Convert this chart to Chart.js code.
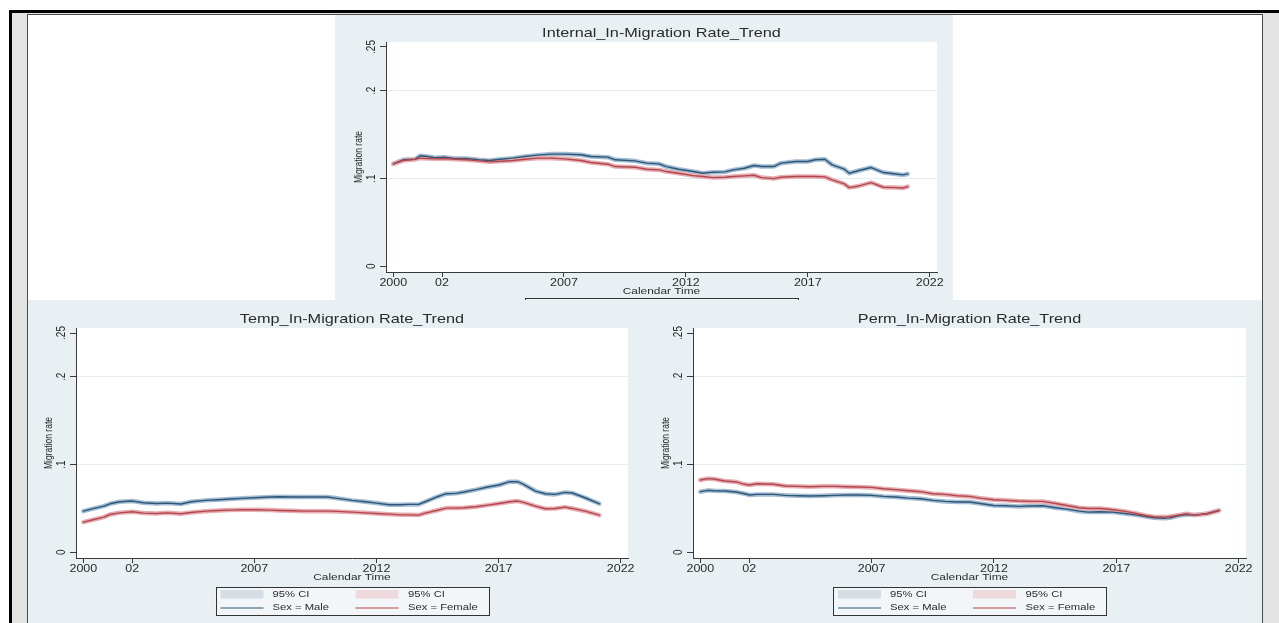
<!DOCTYPE html>
<html>
<head>
<meta charset="utf-8">
<title>In-Migration Rate Trends</title>
<script src="https://cdn.jsdelivr.net/npm/chart.js@4.4.1/dist/chart.umd.min.js"></script>
<style>
  html, body { margin: 0; padding: 0; background: #fff; }
  body { width: 1279px; height: 623px; position: relative; overflow: hidden; }
  .abs { position: absolute; }
  #gutter { left: 12px; top: 13px; width: 1267px; height: 610px; background: #e3e3e3; }
  #frameTop { left: 9px; top: 10px; width: 1270px; height: 3px; background: #000; }
  #frameLeft { left: 9px; top: 10px; width: 3px; height: 613px; background: #000; }
  #sheet { left: 27px; top: 14px; width: 1234px; height: 609px; background: #fff;
           border-left: 1px solid #4a4a4a; border-top: 1px solid #4a4a4a; border-right: 1px solid #4a4a4a; }
  canvas.panel { position: absolute; background: #e9f0f3; }
</style>
</head>
<body>
<div id="gutter" class="abs"></div>
<div id="frameTop" class="abs"></div>
<div id="frameLeft" class="abs"></div>
<div id="sheet" class="abs"></div>
<canvas id="cInternal" class="panel" width="618" height="285" style="left:335px;top:15px"></canvas>
<canvas id="cTemp" class="panel" width="612" height="323" style="left:28px;top:300px"></canvas>
<canvas id="cPerm" class="panel" width="622" height="323" style="left:640px;top:300px"></canvas>
<script>
// ---- axis ticks and labels ----
const X_TICKS = [2000, 2002, 2007, 2012, 2017, 2022];
const X_TICK_LABELS = ['2000', '02', '2007', '2012', '2017', '2022'];
const Y_TICKS = [0, 0.1, 0.2, 0.25];
const Y_TICK_LABELS = ['0', '.1', '.2', '.25'];
const X_TITLE = 'Calendar Time';
const Y_TITLE = 'Migration rate';
const LEGEND_LABELS = ['95% CI', '95% CI', 'Sex = Male', 'Sex = Female'];

// ---- Internal in-migration ----
const internalTitle = 'Internal_In-Migration Rate_Trend';
const internalYears = [2000, 2000.4, 2000.9, 2001.1, 2001.4, 2001.7, 2002.1, 2002.5, 2003, 2003.5, 2003.95, 2004.4, 2004.9, 2005.4, 2005.9, 2006.5, 2007, 2007.7, 2008.1, 2008.8, 2009.1, 2009.9, 2010.4, 2010.9, 2011.2, 2011.7, 2012.3, 2012.7, 2013.1, 2013.6, 2013.95, 2014.4, 2014.8, 2015.1, 2015.6, 2015.9, 2016.5, 2017, 2017.3, 2017.7, 2018, 2018.5, 2018.7, 2019.1, 2019.6, 2020.1, 2020.6, 2020.9, 2021.1];
const internalMale = [0.1168, 0.1214, 0.1221, 0.1260, 0.1252, 0.1237, 0.1244, 0.1229, 0.1229, 0.1214, 0.1206, 0.1221, 0.1233, 0.1252, 0.1267, 0.1279, 0.1279, 0.1271, 0.1252, 0.1244, 0.1214, 0.1202, 0.1176, 0.1168, 0.1137, 0.1107, 0.1080, 0.1061, 0.1073, 0.1076, 0.1099, 0.1118, 0.1149, 0.1137, 0.1137, 0.1176, 0.1195, 0.1195, 0.1214, 0.1221, 0.1156, 0.1107, 0.1061, 0.1092, 0.1126, 0.1069, 0.1053, 0.1042, 0.1053];
const internalFemale = [0.1168, 0.1206, 0.1221, 0.1233, 0.1229, 0.1225, 0.1229, 0.1221, 0.1214, 0.1202, 0.1191, 0.1198, 0.1206, 0.1221, 0.1233, 0.1233, 0.1225, 0.1206, 0.1183, 0.1164, 0.1137, 0.1130, 0.1107, 0.1099, 0.1080, 0.1061, 0.1034, 0.1023, 0.1011, 0.1015, 0.1023, 0.1031, 0.1038, 0.1011, 0.1000, 0.1015, 0.1023, 0.1023, 0.1023, 0.1019, 0.0985, 0.0939, 0.0897, 0.0916, 0.0954, 0.0901, 0.0897, 0.0893, 0.0908];

// ---- Temporary in-migration ----
const tempTitle = 'Temp_In-Migration Rate_Trend';
const tempYears = [2000, 2000.44, 2000.84, 2001.09, 2001.49, 2002.01, 2002.46, 2003.0, 2003.44, 2004.0, 2004.41, 2005.01, 2005.54, 2006.0, 2006.52, 2007.0, 2007.65, 2008.0, 2008.62, 2009.01, 2009.59, 2010.0, 2010.4, 2011.0, 2011.54, 2012.0, 2012.51, 2013.0, 2013.32, 2013.73, 2014.0, 2014.46, 2014.86, 2015.27, 2015.59, 2016.08, 2016.56, 2017.02, 2017.46, 2017.78, 2018.02, 2018.51, 2018.91, 2019.32, 2019.72, 2020.02, 2020.54, 2021.13];
const tempMale = [0.0469, 0.0500, 0.0527, 0.0553, 0.0576, 0.0584, 0.0565, 0.0557, 0.0561, 0.0550, 0.0576, 0.0592, 0.0599, 0.0607, 0.0615, 0.0622, 0.0630, 0.0634, 0.0630, 0.0630, 0.0630, 0.0630, 0.0615, 0.0592, 0.0576, 0.0561, 0.0542, 0.0542, 0.0546, 0.0546, 0.0576, 0.0630, 0.0668, 0.0672, 0.0687, 0.0714, 0.0744, 0.0767, 0.0805, 0.0805, 0.0775, 0.0698, 0.0668, 0.0660, 0.0683, 0.0676, 0.0622, 0.0553];
const tempFemale = [0.0344, 0.0374, 0.0401, 0.0431, 0.0450, 0.0462, 0.0447, 0.0443, 0.0450, 0.0439, 0.0454, 0.0469, 0.0477, 0.0481, 0.0485, 0.0485, 0.0481, 0.0477, 0.0473, 0.0469, 0.0469, 0.0469, 0.0466, 0.0458, 0.0450, 0.0443, 0.0435, 0.0427, 0.0427, 0.0424, 0.0447, 0.0477, 0.0504, 0.0504, 0.0508, 0.0519, 0.0538, 0.0557, 0.0576, 0.0584, 0.0569, 0.0527, 0.0496, 0.0500, 0.0515, 0.0500, 0.0469, 0.0424];

// ---- Permanent in-migration ----
const permTitle = 'Perm_In-Migration Rate_Trend';
const permYears = [2000, 2000.3, 2000.55, 2001.0, 2001.47, 2001.81, 2002.01, 2002.31, 2002.99, 2003.48, 2004.0, 2004.48, 2005.0, 2005.48, 2005.99, 2006.49, 2006.99, 2007.49, 2007.99, 2008.49, 2009.0, 2009.5, 2010.0, 2010.5, 2011.0, 2011.5, 2011.99, 2012.49, 2012.99, 2013.5, 2014.0, 2014.52, 2014.98, 2015.48, 2015.85, 2016.35, 2016.86, 2017.36, 2017.86, 2018.19, 2018.53, 2019.0, 2019.2, 2019.53, 2019.87, 2020.2, 2020.7, 2021.2];
const permMale = [0.0691, 0.0706, 0.0702, 0.0698, 0.0687, 0.0668, 0.0653, 0.0660, 0.0660, 0.0649, 0.0645, 0.0641, 0.0645, 0.0649, 0.0653, 0.0653, 0.0649, 0.0637, 0.0630, 0.0618, 0.0611, 0.0592, 0.0580, 0.0573, 0.0573, 0.0553, 0.0534, 0.0531, 0.0523, 0.0527, 0.0531, 0.0508, 0.0492, 0.0469, 0.0458, 0.0462, 0.0458, 0.0443, 0.0424, 0.0408, 0.0393, 0.0389, 0.0393, 0.0416, 0.0431, 0.0424, 0.0439, 0.0477];
const permFemale = [0.0824, 0.0840, 0.0836, 0.0813, 0.0802, 0.0775, 0.0767, 0.0782, 0.0775, 0.0756, 0.0752, 0.0748, 0.0752, 0.0752, 0.0748, 0.0744, 0.0740, 0.0725, 0.0714, 0.0702, 0.0691, 0.0668, 0.0660, 0.0645, 0.0637, 0.0615, 0.0599, 0.0592, 0.0584, 0.0580, 0.0580, 0.0557, 0.0534, 0.0508, 0.0500, 0.0500, 0.0485, 0.0466, 0.0439, 0.0420, 0.0405, 0.0401, 0.0408, 0.0424, 0.0439, 0.0424, 0.0439, 0.0477];

// ---- styling ----
const FONT = '"Liberation Sans", Arial, Helvetica, sans-serif';
const TEXT = '#2b2b2b';
const AXIS = '#3a3a3a';
const GRID = '#e3ebef';
const MALE_LINE = '#2d5676';
const MALE_BAND = '#a3bdd4';
const FEMALE_LINE = '#b3464d';
const FEMALE_BAND = '#e6aeb3';
const MALE_SWATCH = '#d6dde5';
const FEMALE_SWATCH = '#eed9dd';
const SX = 1.25; // horizontal text stretch

function txt(ctx, s, x, y, size, opts = {}) {
  ctx.save();
  ctx.translate(x, y);
  ctx.scale(opts.sx || SX, 1);
  if (opts.rot) ctx.rotate(opts.rot);
  ctx.font = `${size}px ${FONT}`;
  ctx.fillStyle = opts.color || TEXT;
  ctx.textAlign = opts.align || 'center';
  ctx.textBaseline = 'middle';
  ctx.fillText(s, 0, 0);
  ctx.restore();
}

function drawLegend(ctx, bx, by) {
  const w = 273, h = 28;
  ctx.save();
  ctx.fillStyle = '#f2f6f8';
  ctx.fillRect(bx, by, w, h);
  ctx.strokeStyle = '#333';
  ctx.lineWidth = 1;
  ctx.strokeRect(Math.round(bx) + 0.5, Math.round(by) + 0.5, w, h);
  ctx.fillStyle = MALE_SWATCH;
  ctx.fillRect(bx + 5, by + 3, 43, 8.5);
  ctx.fillStyle = FEMALE_SWATCH;
  ctx.fillRect(bx + 140, by + 3, 43, 8.5);
  ctx.lineWidth = 1.2;
  ctx.strokeStyle = MALE_LINE;
  ctx.beginPath(); ctx.moveTo(bx + 5, by + 21); ctx.lineTo(bx + 48, by + 21); ctx.stroke();
  ctx.strokeStyle = FEMALE_LINE;
  ctx.beginPath(); ctx.moveTo(bx + 140, by + 21); ctx.lineTo(bx + 183, by + 21); ctx.stroke();
  ctx.restore();
  txt(ctx, LEGEND_LABELS[0], bx + 57, by + 7.5, 9, { align: 'left' });
  txt(ctx, LEGEND_LABELS[1], bx + 192.5, by + 7.5, 9, { align: 'left' });
  txt(ctx, LEGEND_LABELS[2], bx + 57, by + 21, 9, { align: 'left' });
  txt(ctx, LEGEND_LABELS[3], bx + 192.5, by + 21, 9, { align: 'left' });
}

// plot-region fill, titles, axis labels and legend
const stataDecor = {
  id: 'stataDecor',
  beforeDraw(chart) {
    const { ctx, chartArea: a } = chart;
    ctx.save();
    ctx.fillStyle = '#fff';
    ctx.fillRect(a.left, a.top, a.right - a.left, a.bottom - a.top);
    ctx.restore();
  },
  afterDraw(chart, args, o) {
    const { ctx, chartArea: a, scales: { x, y } } = chart;
    const cx = (a.left + a.right) / 2;
    txt(ctx, o.title, cx, a.top - 8.5, 13);
    Y_TICKS.forEach((v, i) => txt(ctx, Y_TICK_LABELS[i], a.left - 14, y.getPixelForValue(v), 10, { rot: -Math.PI / 2 }));
    txt(ctx, Y_TITLE, a.left - 27, (a.top + a.bottom) / 2, 8.5, { rot: -Math.PI / 2 });
    X_TICKS.forEach((v, i) => txt(ctx, X_TICK_LABELS[i], x.getPixelForValue(v), a.bottom + 11, 10));
    txt(ctx, X_TITLE, cx, a.bottom + 19, 9.5);
    drawLegend(ctx, cx - 136.5, o.legendTop);
  }
};

function makePanel(p) {
  const pts = (vals) => p.years.map((yr, i) => ({ x: yr, y: vals[i] }));
  const line = (vals, color, width, order) => ({
    data: pts(vals), borderColor: color, borderWidth: width, order,
    pointRadius: 0, tension: 0, fill: false, borderJoinStyle: 'round', borderCapStyle: 'round'
  });
  return new Chart(document.getElementById(p.id), {
    type: 'line',
    data: {
      datasets: [
        line(p.male, MALE_BAND, 4.5, 4),
        line(p.female, FEMALE_BAND, 4.5, 3),
        line(p.male, MALE_LINE, 1.4, 2),
        line(p.female, FEMALE_LINE, 1.4, 1)
      ]
    },
    options: {
      responsive: false,
      animation: false,
      devicePixelRatio: 1,
      events: [],
      layout: { padding: { left: 0, right: p.padR, top: p.padT, bottom: p.padB } },
      plugins: {
        legend: { display: false },
        tooltip: { enabled: false },
        stataDecor: { title: p.title, legendTop: p.legendTop }
      },
      scales: {
        x: {
          type: 'linear', min: 1999.7, max: 2022.3,
          afterBuildTicks: (s) => { s.ticks = X_TICKS.map((v) => ({ value: v })); },
          afterFit: (s) => { s.height = 28; s.paddingLeft = 0; s.paddingRight = 0; },
          grid: { drawOnChartArea: false, drawTicks: true, tickLength: 5, tickColor: AXIS, tickWidth: 1 },
          border: { display: true, color: AXIS, width: 1 },
          ticks: { display: false }
        },
        y: {
          type: 'linear', min: -0.0065, max: 0.2557,
          afterBuildTicks: (s) => { s.ticks = Y_TICKS.map((v) => ({ value: v })); },
          afterFit: (s) => { s.width = p.yW; s.paddingTop = 0; s.paddingBottom = 0; },
          grid: {
            drawTicks: true, tickLength: 6, tickColor: AXIS, tickWidth: 1,
            color: (c) => (c.tick && (c.tick.value === 0.1 || c.tick.value === 0.2)) ? GRID : 'rgba(0,0,0,0)'
          },
          border: { display: true, color: AXIS, width: 1 },
          ticks: { display: false }
        }
      }
    },
    plugins: [stataDecor]
  });
}

[
  { id: 'cInternal', title: internalTitle, years: internalYears, male: internalMale, female: internalFemale,
    yW: 51, padR: 16, padT: 27, padB: 0, legendTop: 283 },
  { id: 'cTemp', title: tempTitle, years: tempYears, male: tempMale, female: tempFemale,
    yW: 48, padR: 12, padT: 28, padB: 37, legendTop: 287 },
  { id: 'cPerm', title: permTitle, years: permYears, male: permMale, female: permFemale,
    yW: 53, padR: 16, padT: 28, padB: 37, legendTop: 287 }
].forEach(makePanel);
</script>
</body>
</html>
